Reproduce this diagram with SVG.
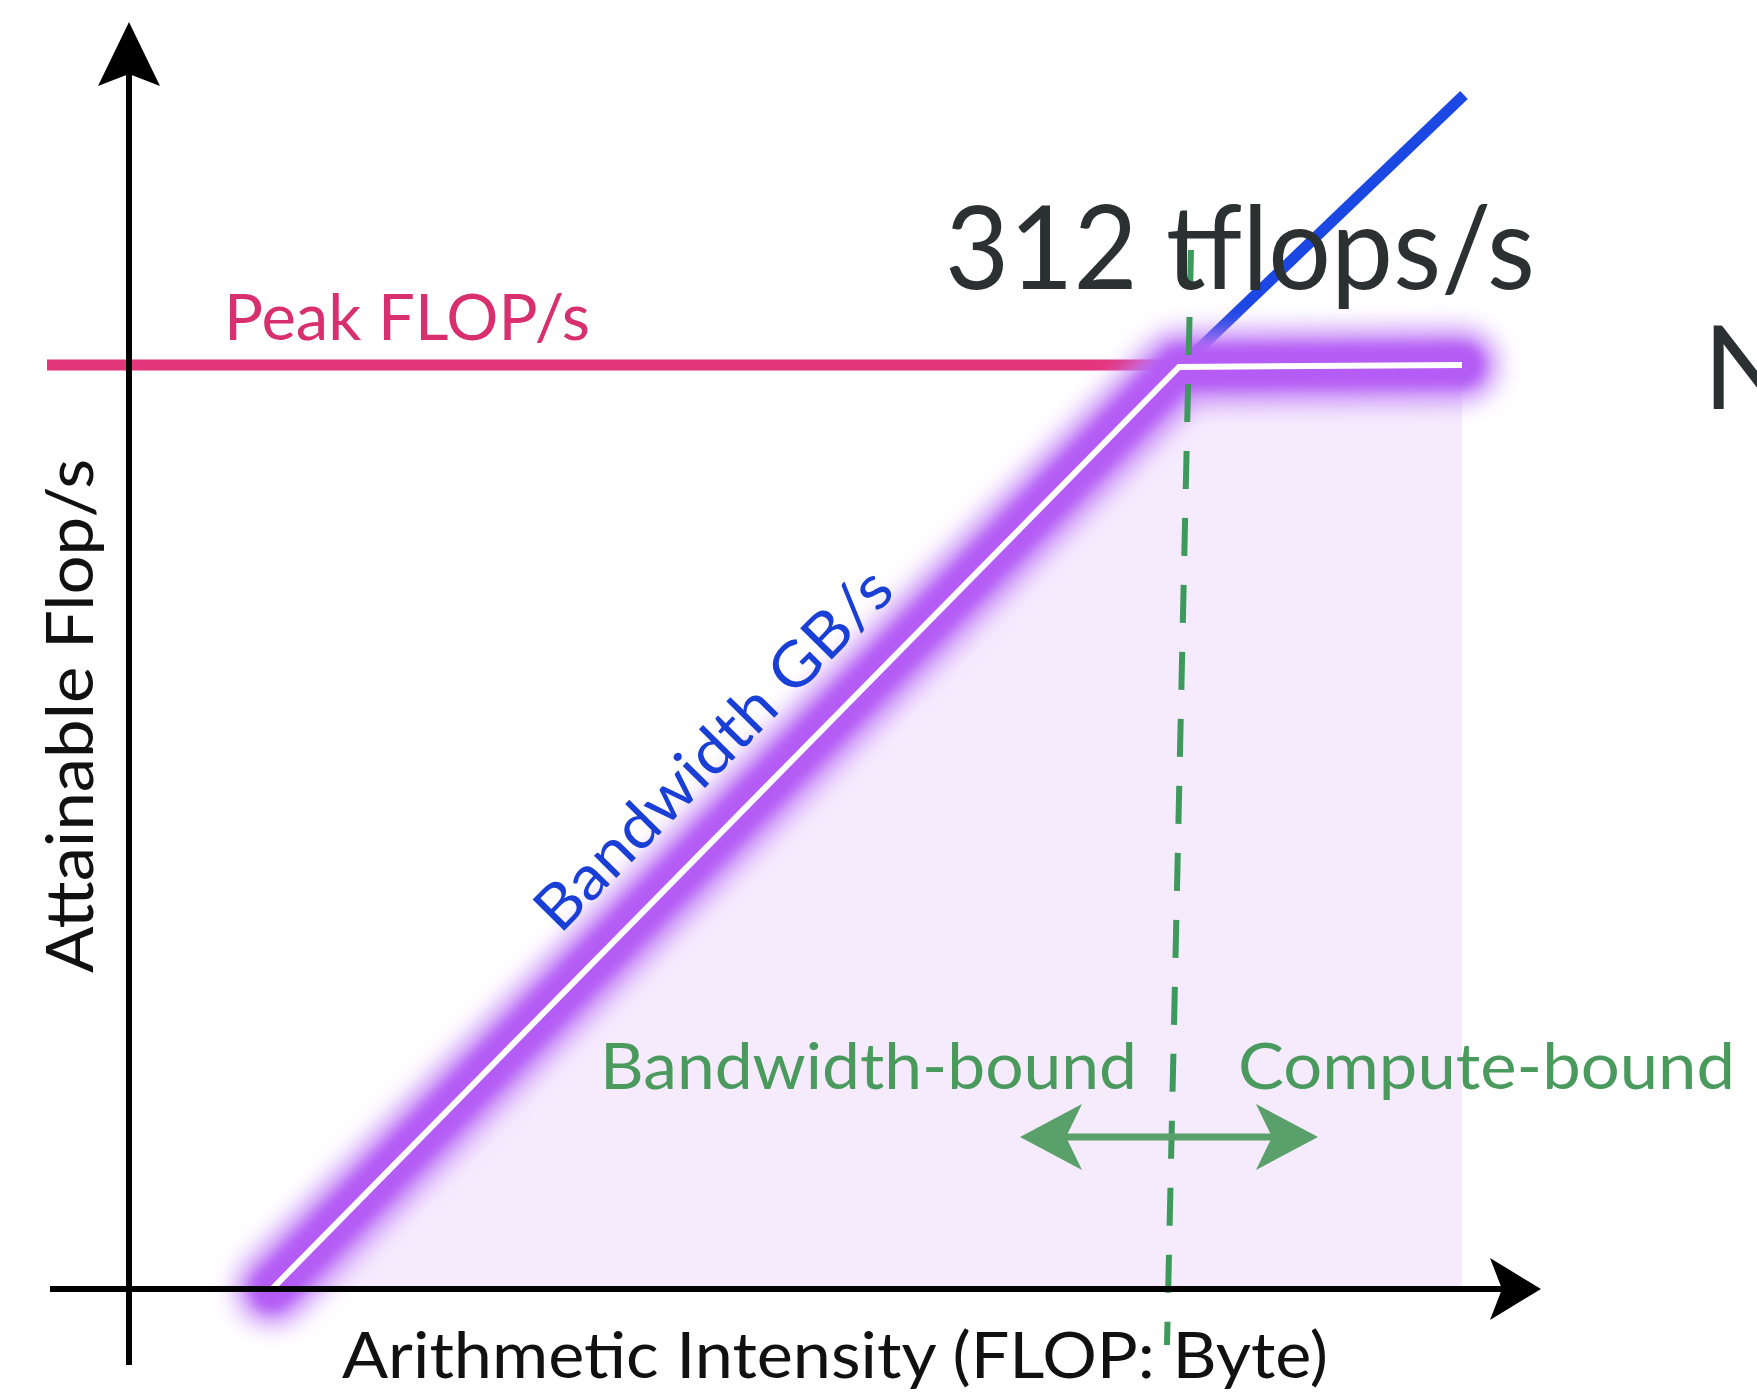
<svg xmlns="http://www.w3.org/2000/svg" width="1757" height="1394" viewBox="0 0 1757 1394">
<style>
.lbl{font-family:Lato,"Open Sans","DejaVu Sans",sans-serif;}
.big{font-family:Lato,"Open Sans","DejaVu Sans",sans-serif;fill:#2b3030;font-size:117px;}
.green{fill:#4a9a5e;}
</style>
<defs>
<filter id="glow" x="-20%" y="-20%" width="140%" height="140%"><feGaussianBlur stdDeviation="12"/></filter>
<filter id="glow2" x="-20%" y="-20%" width="140%" height="140%"><feGaussianBlur stdDeviation="6"/></filter>
</defs>
<rect width="1757" height="1394" fill="#ffffff"/>
<g id="region">
<polygon points="272,1289 1179,368 1462,365 1462,1289" fill="#f6ebfd"/>
</g>
<g id="connectors">
<line x1="47" y1="365" x2="1185" y2="365" stroke="#e3357c" stroke-width="11"/>
<line x1="1179" y1="368" x2="1464" y2="95" stroke="#1b47e3" stroke-width="11"/>
<polyline points="272,1289 1179,367 1462,365" fill="none" stroke="#c07cf7" stroke-width="72" stroke-linecap="round" stroke-linejoin="round" filter="url(#glow)" opacity="0.9"/>
<polyline points="272,1289 1179,367 1462,365" fill="none" stroke="#b45cf5" stroke-width="44" stroke-linecap="round" stroke-linejoin="round" filter="url(#glow2)"/>
<polyline points="272,1289 1179,367 1462,365" fill="none" stroke="#ffffff" stroke-width="6"/>
<line x1="1191" y1="250" x2="1167" y2="1345" stroke="#3d9a5c" stroke-width="6" stroke-dasharray="38,29"/>
<line x1="129" y1="60" x2="129" y2="1365" stroke="#000" stroke-width="6"/>
<polygon points="129,22 160,86 129,74 98,86" fill="#000"/>
<line x1="50" y1="1289" x2="1510" y2="1289" stroke="#000" stroke-width="6"/>
<polygon points="1541,1289 1490,1258 1502,1289 1490,1320" fill="#000"/>
<line x1="1040" y1="1137" x2="1300" y2="1137" stroke="#5aa06a" stroke-width="7"/>
<polygon points="1020,1137 1082,1104 1066,1137 1082,1170" fill="#5aa06a"/>
<polygon points="1318,1137 1256,1104 1272,1137 1256,1170" fill="#5aa06a"/>
</g>
<g id="peak-label"><text class="lbl" x="224" y="340" font-size="64" fill="#d8306f" textLength="366" lengthAdjust="spacingAndGlyphs">Peak FLOP/s</text></g>
<g id="y-label"><text class="lbl" transform="translate(93,973) rotate(-90)" font-size="66" fill="#111" textLength="514" lengthAdjust="spacingAndGlyphs">Attainable Flop/s</text></g>
<g id="bw-label"><text class="lbl" transform="translate(560,935) rotate(-45.4)" font-size="62" fill="#1a3fd6" textLength="480" lengthAdjust="spacingAndGlyphs">Bandwidth GB/s</text></g>
<g id="bwbound-label"><text class="lbl green" x="600" y="1089" font-size="64" textLength="537" lengthAdjust="spacingAndGlyphs">Bandwidth-bound</text></g>
<g id="compbound-label"><text class="lbl green" x="1238" y="1089" font-size="64" textLength="497" lengthAdjust="spacingAndGlyphs">Compute-bound</text></g>
<g id="x-label"><text class="lbl" x="342" y="1378" font-size="64" fill="#111" textLength="986" lengthAdjust="spacingAndGlyphs">Arithmetic Intensity (FLOP: Byte)</text></g>
<g id="tflops-label"><text class="big" x="945" y="289" textLength="590" lengthAdjust="spacingAndGlyphs">312 tflops/s</text></g>
<g id="n-label"><text class="big" x="1703" y="409">N</text></g>
</svg>
